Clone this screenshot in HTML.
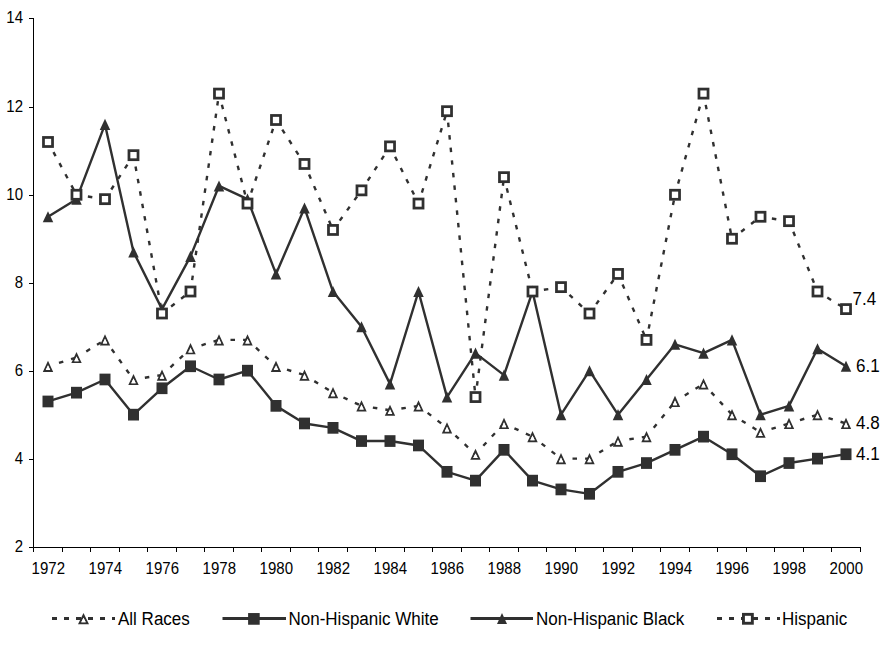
<!DOCTYPE html><html><head><meta charset="utf-8"><style>html,body{margin:0;padding:0;background:#fff;width:894px;height:647px;overflow:hidden}svg{display:block}text{font-family:"Liberation Sans",sans-serif;fill:#000}</style></head><body>
<svg width="894" height="647" viewBox="0 0 894 647">
<path d="M33.5 18V547.5H861" fill="none" stroke="#000" stroke-width="1"/>
<path d="M29 18.5H33.5M29 107.5H33.5M29 195.5H33.5M29 283.5H33.5M29 371.5H33.5M29 459.5H33.5M29 547.5H33.5M33.5 547.5V552M62.5 547.5V552M90.5 547.5V552M119.5 547.5V552M147.5 547.5V552M176.5 547.5V552M204.5 547.5V552M233.5 547.5V552M261.5 547.5V552M290.5 547.5V552M318.5 547.5V552M347.5 547.5V552M375.5 547.5V552M404.5 547.5V552M432.5 547.5V552M461.5 547.5V552M489.5 547.5V552M518.5 547.5V552M546.5 547.5V552M575.5 547.5V552M603.5 547.5V552M632.5 547.5V552M660.5 547.5V552M689.5 547.5V552M717.5 547.5V552M746.5 547.5V552M774.5 547.5V552M803.5 547.5V552M831.5 547.5V552M860.5 547.5V552" stroke="#000" stroke-width="1" fill="none"/>
<text x="6.32" y="23.00" font-size="15.6" textLength="16.68" lengthAdjust="spacingAndGlyphs">14</text>
<text x="6.32" y="112.00" font-size="15.6" textLength="16.68" lengthAdjust="spacingAndGlyphs">12</text>
<text x="6.32" y="200.00" font-size="15.6" textLength="16.68" lengthAdjust="spacingAndGlyphs">10</text>
<text x="14.66" y="288.00" font-size="15.6" textLength="8.34" lengthAdjust="spacingAndGlyphs">8</text>
<text x="14.66" y="376.00" font-size="15.6" textLength="8.34" lengthAdjust="spacingAndGlyphs">6</text>
<text x="14.66" y="464.00" font-size="15.6" textLength="8.34" lengthAdjust="spacingAndGlyphs">4</text>
<text x="14.66" y="552.00" font-size="15.6" textLength="8.34" lengthAdjust="spacingAndGlyphs">2</text>
<text x="31.62" y="574.00" font-size="15.6" textLength="33.37" lengthAdjust="spacingAndGlyphs">1972</text>
<text x="88.62" y="574.00" font-size="15.6" textLength="33.37" lengthAdjust="spacingAndGlyphs">1974</text>
<text x="145.62" y="574.00" font-size="15.6" textLength="33.37" lengthAdjust="spacingAndGlyphs">1976</text>
<text x="202.62" y="574.00" font-size="15.6" textLength="33.37" lengthAdjust="spacingAndGlyphs">1978</text>
<text x="259.62" y="574.00" font-size="15.6" textLength="33.37" lengthAdjust="spacingAndGlyphs">1980</text>
<text x="316.62" y="574.00" font-size="15.6" textLength="33.37" lengthAdjust="spacingAndGlyphs">1982</text>
<text x="373.62" y="574.00" font-size="15.6" textLength="33.37" lengthAdjust="spacingAndGlyphs">1984</text>
<text x="430.62" y="574.00" font-size="15.6" textLength="33.37" lengthAdjust="spacingAndGlyphs">1986</text>
<text x="487.62" y="574.00" font-size="15.6" textLength="33.37" lengthAdjust="spacingAndGlyphs">1988</text>
<text x="544.62" y="574.00" font-size="15.6" textLength="33.37" lengthAdjust="spacingAndGlyphs">1990</text>
<text x="601.62" y="574.00" font-size="15.6" textLength="33.37" lengthAdjust="spacingAndGlyphs">1992</text>
<text x="658.62" y="574.00" font-size="15.6" textLength="33.37" lengthAdjust="spacingAndGlyphs">1994</text>
<text x="715.62" y="574.00" font-size="15.6" textLength="33.37" lengthAdjust="spacingAndGlyphs">1996</text>
<text x="772.62" y="574.00" font-size="15.6" textLength="33.37" lengthAdjust="spacingAndGlyphs">1998</text>
<text x="829.62" y="574.00" font-size="15.6" textLength="33.37" lengthAdjust="spacingAndGlyphs">2000</text>
<g fill="none" stroke="#303030" stroke-width="2.4" stroke-dasharray="4.5 8.1" stroke-dashoffset="5.1"><path d="M49.90 145.50L76.50 194.76"/><path d="M80.45 195.37L105.00 199.16"/><path d="M107.18 195.80L133.50 155.18"/><path d="M134.21 159.11L162.00 313.51"/><path d="M165.17 311.06L190.50 291.52"/><path d="M191.07 287.56L219.00 93.61"/><path d="M220.00 97.48L247.50 203.56"/><path d="M248.79 199.77L276.00 119.99"/><path d="M278.18 123.35L304.50 163.97"/><path d="M306.09 167.65L333.00 229.94"/><path d="M335.34 226.70L361.50 190.36"/><path d="M363.68 187.01L390.00 146.38"/><path d="M391.78 149.96L418.50 203.56"/><path d="M419.68 199.73L447.00 111.20"/><path d="M447.40 115.18L475.50 397.07"/><path d="M476.01 393.10L504.00 177.17"/><path d="M504.97 181.05L532.50 291.52"/><path d="M536.45 290.91L561.00 287.12"/><path d="M563.94 289.84L589.50 313.51"/><path d="M591.84 310.26L618.00 273.92"/><path d="M619.59 277.60L646.50 339.89"/><path d="M647.27 335.97L675.00 194.76"/><path d="M676.08 190.91L703.50 93.61"/><path d="M704.27 97.53L732.00 238.74"/><path d="M735.17 236.30L760.50 216.75"/><path d="M764.45 217.36L789.00 221.15"/><path d="M790.50 224.86L817.50 291.52"/><path d="M820.90 293.62L846.00 309.11"/></g>
<g fill="none" stroke="#303030" stroke-width="2.4" stroke-dasharray="4.5 8.1" stroke-dashoffset="5.1"><path d="M51.82 365.10L76.50 357.49"/><path d="M79.90 355.38L105.00 339.89"/><path d="M107.34 343.14L133.50 379.48"/><path d="M137.45 378.87L162.00 375.08"/><path d="M164.94 372.36L190.50 348.69"/><path d="M194.32 347.51L219.00 339.89"/><path d="M223.00 339.89L247.50 339.89"/><path d="M250.44 342.61L276.00 366.28"/><path d="M279.82 367.46L304.50 375.08"/><path d="M307.90 377.18L333.00 392.67"/><path d="M336.63 394.35L361.50 405.86"/><path d="M365.45 406.47L390.00 410.26"/><path d="M393.95 409.65L418.50 405.86"/><path d="M421.67 408.31L447.00 427.85"/><path d="M449.94 430.57L475.50 454.24"/><path d="M478.22 451.31L504.00 423.46"/><path d="M507.63 425.14L532.50 436.65"/><path d="M535.67 439.09L561.00 458.64"/><path d="M565.00 458.64L589.50 458.64"/><path d="M592.90 456.54L618.00 441.05"/><path d="M621.95 440.44L646.50 436.65"/><path d="M649.02 433.54L675.00 401.47"/><path d="M678.40 399.36L703.50 383.87"/><path d="M706.22 386.81L732.00 414.66"/><path d="M735.40 416.76L760.50 432.25"/><path d="M764.32 431.07L789.00 423.46"/><path d="M792.82 422.28L817.50 414.66"/><path d="M821.32 415.84L846.00 423.46"/></g>
<path d="M48.00 216.75 L76.50 199.16 L105.00 124.39 L133.50 251.93 L162.00 309.11 L190.50 256.33 L219.00 185.96 L247.50 199.16 L276.00 273.92 L304.50 207.95 L333.00 291.52 L361.50 326.70 L390.00 383.87 L418.50 291.52 L447.00 397.07 L475.50 353.09 L504.00 375.08 L532.50 291.52 L561.00 414.66 L589.50 370.68 L618.00 414.66 L646.50 379.48 L675.00 344.29 L703.50 353.09 L732.00 339.89 L760.50 414.66 L789.00 405.86 L817.50 348.69 L846.00 366.28" fill="none" stroke="#303030" stroke-width="2.4" stroke-linejoin="round"/>
<path d="M48.00 401.47 L76.50 392.67 L105.00 379.48 L133.50 414.66 L162.00 388.27 L190.50 366.28 L219.00 379.48 L247.50 370.68 L276.00 405.86 L304.50 423.46 L333.00 427.85 L361.50 441.05 L390.00 441.05 L418.50 445.45 L447.00 471.83 L475.50 480.63 L504.00 449.84 L532.50 480.63 L561.00 489.43 L589.50 493.82 L618.00 471.83 L646.50 463.04 L675.00 449.84 L703.50 436.65 L732.00 454.24 L760.50 476.23 L789.00 463.04 L817.50 458.64 L846.00 454.24" fill="none" stroke="#303030" stroke-width="2.4" stroke-linejoin="round"/>
<path d="M48.00 360.68L53.20 371.88L42.80 371.88ZM48.00 365.19L45.78 369.98L50.22 369.98Z" fill="#303030" fill-rule="evenodd"/><path d="M48.00 365.19L50.22 369.98L45.78 369.98Z" fill="#fff"/>
<path d="M76.50 351.89L81.70 363.09L71.30 363.09ZM76.50 356.40L74.28 361.19L78.72 361.19Z" fill="#303030" fill-rule="evenodd"/><path d="M76.50 356.40L78.72 361.19L74.28 361.19Z" fill="#fff"/>
<path d="M105.00 334.29L110.20 345.49L99.80 345.49ZM105.00 338.81L102.78 343.59L107.22 343.59Z" fill="#303030" fill-rule="evenodd"/><path d="M105.00 338.81L107.22 343.59L102.78 343.59Z" fill="#fff"/>
<path d="M133.50 373.88L138.70 385.08L128.30 385.08ZM133.50 378.39L131.28 383.18L135.72 383.18Z" fill="#303030" fill-rule="evenodd"/><path d="M133.50 378.39L135.72 383.18L131.28 383.18Z" fill="#fff"/>
<path d="M162.00 369.48L167.20 380.68L156.80 380.68ZM162.00 373.99L159.78 378.78L164.22 378.78Z" fill="#303030" fill-rule="evenodd"/><path d="M162.00 373.99L164.22 378.78L159.78 378.78Z" fill="#fff"/>
<path d="M190.50 343.09L195.70 354.29L185.30 354.29ZM190.50 347.60L188.28 352.39L192.72 352.39Z" fill="#303030" fill-rule="evenodd"/><path d="M190.50 347.60L192.72 352.39L188.28 352.39Z" fill="#fff"/>
<path d="M219.00 334.29L224.20 345.49L213.80 345.49ZM219.00 338.81L216.78 343.59L221.22 343.59Z" fill="#303030" fill-rule="evenodd"/><path d="M219.00 338.81L221.22 343.59L216.78 343.59Z" fill="#fff"/>
<path d="M247.50 334.29L252.70 345.49L242.30 345.49ZM247.50 338.81L245.28 343.59L249.72 343.59Z" fill="#303030" fill-rule="evenodd"/><path d="M247.50 338.81L249.72 343.59L245.28 343.59Z" fill="#fff"/>
<path d="M276.00 360.68L281.20 371.88L270.80 371.88ZM276.00 365.19L273.78 369.98L278.22 369.98Z" fill="#303030" fill-rule="evenodd"/><path d="M276.00 365.19L278.22 369.98L273.78 369.98Z" fill="#fff"/>
<path d="M304.50 369.48L309.70 380.68L299.30 380.68ZM304.50 373.99L302.28 378.78L306.72 378.78Z" fill="#303030" fill-rule="evenodd"/><path d="M304.50 373.99L306.72 378.78L302.28 378.78Z" fill="#fff"/>
<path d="M333.00 387.07L338.20 398.27L327.80 398.27ZM333.00 391.58L330.78 396.37L335.22 396.37Z" fill="#303030" fill-rule="evenodd"/><path d="M333.00 391.58L335.22 396.37L330.78 396.37Z" fill="#fff"/>
<path d="M361.50 400.26L366.70 411.46L356.30 411.46ZM361.50 404.78L359.28 409.56L363.72 409.56Z" fill="#303030" fill-rule="evenodd"/><path d="M361.50 404.78L363.72 409.56L359.28 409.56Z" fill="#fff"/>
<path d="M390.00 404.66L395.20 415.86L384.80 415.86ZM390.00 409.17L387.78 413.96L392.22 413.96Z" fill="#303030" fill-rule="evenodd"/><path d="M390.00 409.17L392.22 413.96L387.78 413.96Z" fill="#fff"/>
<path d="M418.50 400.26L423.70 411.46L413.30 411.46ZM418.50 404.78L416.28 409.56L420.72 409.56Z" fill="#303030" fill-rule="evenodd"/><path d="M418.50 404.78L420.72 409.56L416.28 409.56Z" fill="#fff"/>
<path d="M447.00 422.25L452.20 433.45L441.80 433.45ZM447.00 426.77L444.78 431.55L449.22 431.55Z" fill="#303030" fill-rule="evenodd"/><path d="M447.00 426.77L449.22 431.55L444.78 431.55Z" fill="#fff"/>
<path d="M475.50 448.64L480.70 459.84L470.30 459.84ZM475.50 453.15L473.28 457.94L477.72 457.94Z" fill="#303030" fill-rule="evenodd"/><path d="M475.50 453.15L477.72 457.94L473.28 457.94Z" fill="#fff"/>
<path d="M504.00 417.86L509.20 429.06L498.80 429.06ZM504.00 422.37L501.78 427.16L506.22 427.16Z" fill="#303030" fill-rule="evenodd"/><path d="M504.00 422.37L506.22 427.16L501.78 427.16Z" fill="#fff"/>
<path d="M532.50 431.05L537.70 442.25L527.30 442.25ZM532.50 435.56L530.28 440.35L534.72 440.35Z" fill="#303030" fill-rule="evenodd"/><path d="M532.50 435.56L534.72 440.35L530.28 440.35Z" fill="#fff"/>
<path d="M561.00 453.04L566.20 464.24L555.80 464.24ZM561.00 457.55L558.78 462.34L563.22 462.34Z" fill="#303030" fill-rule="evenodd"/><path d="M561.00 457.55L563.22 462.34L558.78 462.34Z" fill="#fff"/>
<path d="M589.50 453.04L594.70 464.24L584.30 464.24ZM589.50 457.55L587.28 462.34L591.72 462.34Z" fill="#303030" fill-rule="evenodd"/><path d="M589.50 457.55L591.72 462.34L587.28 462.34Z" fill="#fff"/>
<path d="M618.00 435.45L623.20 446.65L612.80 446.65ZM618.00 439.96L615.78 444.75L620.22 444.75Z" fill="#303030" fill-rule="evenodd"/><path d="M618.00 439.96L620.22 444.75L615.78 444.75Z" fill="#fff"/>
<path d="M646.50 431.05L651.70 442.25L641.30 442.25ZM646.50 435.56L644.28 440.35L648.72 440.35Z" fill="#303030" fill-rule="evenodd"/><path d="M646.50 435.56L648.72 440.35L644.28 440.35Z" fill="#fff"/>
<path d="M675.00 395.87L680.20 407.07L669.80 407.07ZM675.00 400.38L672.78 405.17L677.22 405.17Z" fill="#303030" fill-rule="evenodd"/><path d="M675.00 400.38L677.22 405.17L672.78 405.17Z" fill="#fff"/>
<path d="M703.50 378.27L708.70 389.47L698.30 389.47ZM703.50 382.79L701.28 387.57L705.72 387.57Z" fill="#303030" fill-rule="evenodd"/><path d="M703.50 382.79L705.72 387.57L701.28 387.57Z" fill="#fff"/>
<path d="M732.00 409.06L737.20 420.26L726.80 420.26ZM732.00 413.57L729.78 418.36L734.22 418.36Z" fill="#303030" fill-rule="evenodd"/><path d="M732.00 413.57L734.22 418.36L729.78 418.36Z" fill="#fff"/>
<path d="M760.50 426.65L765.70 437.85L755.30 437.85ZM760.50 431.16L758.28 435.95L762.72 435.95Z" fill="#303030" fill-rule="evenodd"/><path d="M760.50 431.16L762.72 435.95L758.28 435.95Z" fill="#fff"/>
<path d="M789.00 417.86L794.20 429.06L783.80 429.06ZM789.00 422.37L786.78 427.16L791.22 427.16Z" fill="#303030" fill-rule="evenodd"/><path d="M789.00 422.37L791.22 427.16L786.78 427.16Z" fill="#fff"/>
<path d="M817.50 409.06L822.70 420.26L812.30 420.26ZM817.50 413.57L815.28 418.36L819.72 418.36Z" fill="#303030" fill-rule="evenodd"/><path d="M817.50 413.57L819.72 418.36L815.28 418.36Z" fill="#fff"/>
<path d="M846.00 417.86L851.20 429.06L840.80 429.06ZM846.00 422.37L843.78 427.16L848.22 427.16Z" fill="#303030" fill-rule="evenodd"/><path d="M846.00 422.37L848.22 427.16L843.78 427.16Z" fill="#fff"/>
<rect x="42.50" y="395.62" width="11.00" height="11.70" fill="#303030"/>
<rect x="71.00" y="386.82" width="11.00" height="11.70" fill="#303030"/>
<rect x="99.50" y="373.63" width="11.00" height="11.70" fill="#303030"/>
<rect x="128.00" y="408.81" width="11.00" height="11.70" fill="#303030"/>
<rect x="156.50" y="382.42" width="11.00" height="11.70" fill="#303030"/>
<rect x="185.00" y="360.43" width="11.00" height="11.70" fill="#303030"/>
<rect x="213.50" y="373.63" width="11.00" height="11.70" fill="#303030"/>
<rect x="242.00" y="364.83" width="11.00" height="11.70" fill="#303030"/>
<rect x="270.50" y="400.01" width="11.00" height="11.70" fill="#303030"/>
<rect x="299.00" y="417.61" width="11.00" height="11.70" fill="#303030"/>
<rect x="327.50" y="422.00" width="11.00" height="11.70" fill="#303030"/>
<rect x="356.00" y="435.20" width="11.00" height="11.70" fill="#303030"/>
<rect x="384.50" y="435.20" width="11.00" height="11.70" fill="#303030"/>
<rect x="413.00" y="439.60" width="11.00" height="11.70" fill="#303030"/>
<rect x="441.50" y="465.98" width="11.00" height="11.70" fill="#303030"/>
<rect x="470.00" y="474.78" width="11.00" height="11.70" fill="#303030"/>
<rect x="498.50" y="443.99" width="11.00" height="11.70" fill="#303030"/>
<rect x="527.00" y="474.78" width="11.00" height="11.70" fill="#303030"/>
<rect x="555.50" y="483.58" width="11.00" height="11.70" fill="#303030"/>
<rect x="584.00" y="487.97" width="11.00" height="11.70" fill="#303030"/>
<rect x="612.50" y="465.98" width="11.00" height="11.70" fill="#303030"/>
<rect x="641.00" y="457.19" width="11.00" height="11.70" fill="#303030"/>
<rect x="669.50" y="443.99" width="11.00" height="11.70" fill="#303030"/>
<rect x="698.00" y="430.80" width="11.00" height="11.70" fill="#303030"/>
<rect x="726.50" y="448.39" width="11.00" height="11.70" fill="#303030"/>
<rect x="755.00" y="470.38" width="11.00" height="11.70" fill="#303030"/>
<rect x="783.50" y="457.19" width="11.00" height="11.70" fill="#303030"/>
<rect x="812.00" y="452.79" width="11.00" height="11.70" fill="#303030"/>
<rect x="840.50" y="448.39" width="11.00" height="11.70" fill="#303030"/>
<path d="M48.00 211.20L53.25 222.30L42.75 222.30Z" fill="#303030"/>
<path d="M76.50 193.61L81.75 204.71L71.25 204.71Z" fill="#303030"/>
<path d="M105.00 118.84L110.25 129.94L99.75 129.94Z" fill="#303030"/>
<path d="M133.50 246.38L138.75 257.48L128.25 257.48Z" fill="#303030"/>
<path d="M162.00 303.56L167.25 314.66L156.75 314.66Z" fill="#303030"/>
<path d="M190.50 250.78L195.75 261.88L185.25 261.88Z" fill="#303030"/>
<path d="M219.00 180.41L224.25 191.51L213.75 191.51Z" fill="#303030"/>
<path d="M247.50 193.61L252.75 204.71L242.25 204.71Z" fill="#303030"/>
<path d="M276.00 268.37L281.25 279.47L270.75 279.47Z" fill="#303030"/>
<path d="M304.50 202.40L309.75 213.50L299.25 213.50Z" fill="#303030"/>
<path d="M333.00 285.97L338.25 297.07L327.75 297.07Z" fill="#303030"/>
<path d="M361.50 321.15L366.75 332.25L356.25 332.25Z" fill="#303030"/>
<path d="M390.00 378.32L395.25 389.42L384.75 389.42Z" fill="#303030"/>
<path d="M418.50 285.97L423.75 297.07L413.25 297.07Z" fill="#303030"/>
<path d="M447.00 391.52L452.25 402.62L441.75 402.62Z" fill="#303030"/>
<path d="M475.50 347.54L480.75 358.64L470.25 358.64Z" fill="#303030"/>
<path d="M504.00 369.53L509.25 380.63L498.75 380.63Z" fill="#303030"/>
<path d="M532.50 285.97L537.75 297.07L527.25 297.07Z" fill="#303030"/>
<path d="M561.00 409.11L566.25 420.21L555.75 420.21Z" fill="#303030"/>
<path d="M589.50 365.13L594.75 376.23L584.25 376.23Z" fill="#303030"/>
<path d="M618.00 409.11L623.25 420.21L612.75 420.21Z" fill="#303030"/>
<path d="M646.50 373.93L651.75 385.03L641.25 385.03Z" fill="#303030"/>
<path d="M675.00 338.74L680.25 349.84L669.75 349.84Z" fill="#303030"/>
<path d="M703.50 347.54L708.75 358.64L698.25 358.64Z" fill="#303030"/>
<path d="M732.00 334.34L737.25 345.44L726.75 345.44Z" fill="#303030"/>
<path d="M760.50 409.11L765.75 420.21L755.25 420.21Z" fill="#303030"/>
<path d="M789.00 400.31L794.25 411.41L783.75 411.41Z" fill="#303030"/>
<path d="M817.50 343.14L822.75 354.24L812.25 354.24Z" fill="#303030"/>
<path d="M846.00 360.73L851.25 371.83L840.75 371.83Z" fill="#303030"/>
<rect x="43.48" y="137.46" width="9.05" height="9.05" fill="#fff" stroke="#303030" stroke-width="2.75"/>
<rect x="71.97" y="190.24" width="9.05" height="9.05" fill="#fff" stroke="#303030" stroke-width="2.75"/>
<rect x="100.47" y="194.63" width="9.05" height="9.05" fill="#fff" stroke="#303030" stroke-width="2.75"/>
<rect x="128.97" y="150.65" width="9.05" height="9.05" fill="#fff" stroke="#303030" stroke-width="2.75"/>
<rect x="157.47" y="308.98" width="9.05" height="9.05" fill="#fff" stroke="#303030" stroke-width="2.75"/>
<rect x="185.97" y="286.99" width="9.05" height="9.05" fill="#fff" stroke="#303030" stroke-width="2.75"/>
<rect x="214.47" y="89.08" width="9.05" height="9.05" fill="#fff" stroke="#303030" stroke-width="2.75"/>
<rect x="242.97" y="199.03" width="9.05" height="9.05" fill="#fff" stroke="#303030" stroke-width="2.75"/>
<rect x="271.48" y="115.47" width="9.05" height="9.05" fill="#fff" stroke="#303030" stroke-width="2.75"/>
<rect x="299.98" y="159.45" width="9.05" height="9.05" fill="#fff" stroke="#303030" stroke-width="2.75"/>
<rect x="328.48" y="225.42" width="9.05" height="9.05" fill="#fff" stroke="#303030" stroke-width="2.75"/>
<rect x="356.98" y="185.84" width="9.05" height="9.05" fill="#fff" stroke="#303030" stroke-width="2.75"/>
<rect x="385.48" y="141.86" width="9.05" height="9.05" fill="#fff" stroke="#303030" stroke-width="2.75"/>
<rect x="413.98" y="199.03" width="9.05" height="9.05" fill="#fff" stroke="#303030" stroke-width="2.75"/>
<rect x="442.48" y="106.67" width="9.05" height="9.05" fill="#fff" stroke="#303030" stroke-width="2.75"/>
<rect x="470.98" y="392.54" width="9.05" height="9.05" fill="#fff" stroke="#303030" stroke-width="2.75"/>
<rect x="499.48" y="172.64" width="9.05" height="9.05" fill="#fff" stroke="#303030" stroke-width="2.75"/>
<rect x="527.98" y="286.99" width="9.05" height="9.05" fill="#fff" stroke="#303030" stroke-width="2.75"/>
<rect x="556.48" y="282.59" width="9.05" height="9.05" fill="#fff" stroke="#303030" stroke-width="2.75"/>
<rect x="584.98" y="308.98" width="9.05" height="9.05" fill="#fff" stroke="#303030" stroke-width="2.75"/>
<rect x="613.48" y="269.40" width="9.05" height="9.05" fill="#fff" stroke="#303030" stroke-width="2.75"/>
<rect x="641.98" y="335.37" width="9.05" height="9.05" fill="#fff" stroke="#303030" stroke-width="2.75"/>
<rect x="670.48" y="190.24" width="9.05" height="9.05" fill="#fff" stroke="#303030" stroke-width="2.75"/>
<rect x="698.98" y="89.08" width="9.05" height="9.05" fill="#fff" stroke="#303030" stroke-width="2.75"/>
<rect x="727.48" y="234.22" width="9.05" height="9.05" fill="#fff" stroke="#303030" stroke-width="2.75"/>
<rect x="755.98" y="212.23" width="9.05" height="9.05" fill="#fff" stroke="#303030" stroke-width="2.75"/>
<rect x="784.48" y="216.62" width="9.05" height="9.05" fill="#fff" stroke="#303030" stroke-width="2.75"/>
<rect x="812.98" y="286.99" width="9.05" height="9.05" fill="#fff" stroke="#303030" stroke-width="2.75"/>
<rect x="841.48" y="304.58" width="9.05" height="9.05" fill="#fff" stroke="#303030" stroke-width="2.75"/>
<text x="852.50" y="305.00" font-size="18" textLength="23.63" lengthAdjust="spacingAndGlyphs">7.4</text>
<text x="856.00" y="372.00" font-size="18" textLength="23.63" lengthAdjust="spacingAndGlyphs">6.1</text>
<text x="856.00" y="429.00" font-size="18" textLength="23.63" lengthAdjust="spacingAndGlyphs">4.8</text>
<text x="856.00" y="460.00" font-size="18" textLength="23.63" lengthAdjust="spacingAndGlyphs">4.1</text>
<path d="M52 618.5H115" stroke="#303030" stroke-width="3" stroke-dasharray="5 7"/>
<path d="M83.50 612.95L89.00 624.25L78.00 624.25ZM83.50 617.63L81.28 622.20L85.72 622.20Z" fill="#303030" fill-rule="evenodd"/><path d="M83.50 617.63L85.72 622.20L81.28 622.20Z" fill="#fff"/>
<text x="118.00" y="625.00" font-size="18" textLength="71.80" lengthAdjust="spacingAndGlyphs">All Races</text>
<path d="M222.5 618.5H286" stroke="#303030" stroke-width="3"/>
<rect x="248.10" y="613.05" width="11.60" height="11.70" fill="#303030"/>
<text x="288.50" y="625.00" font-size="18" textLength="150.22" lengthAdjust="spacingAndGlyphs">Non-Hispanic White</text>
<path d="M470.5 618.5H533" stroke="#303030" stroke-width="3"/>
<path d="M502.00 613.00L507.00 624.00L497.00 624.00Z" fill="#303030"/>
<text x="536.00" y="625.00" font-size="18" textLength="148.34" lengthAdjust="spacingAndGlyphs">Non-Hispanic Black</text>
<path d="M717 618.5H780" stroke="#303030" stroke-width="3" stroke-dasharray="5 7"/>
<rect x="743.45" y="614.35" width="8.90" height="8.90" fill="#fff" stroke="#303030" stroke-width="2.9"/>
<text x="782.00" y="625.00" font-size="18" textLength="65.19" lengthAdjust="spacingAndGlyphs">Hispanic</text>
</svg></body></html>
